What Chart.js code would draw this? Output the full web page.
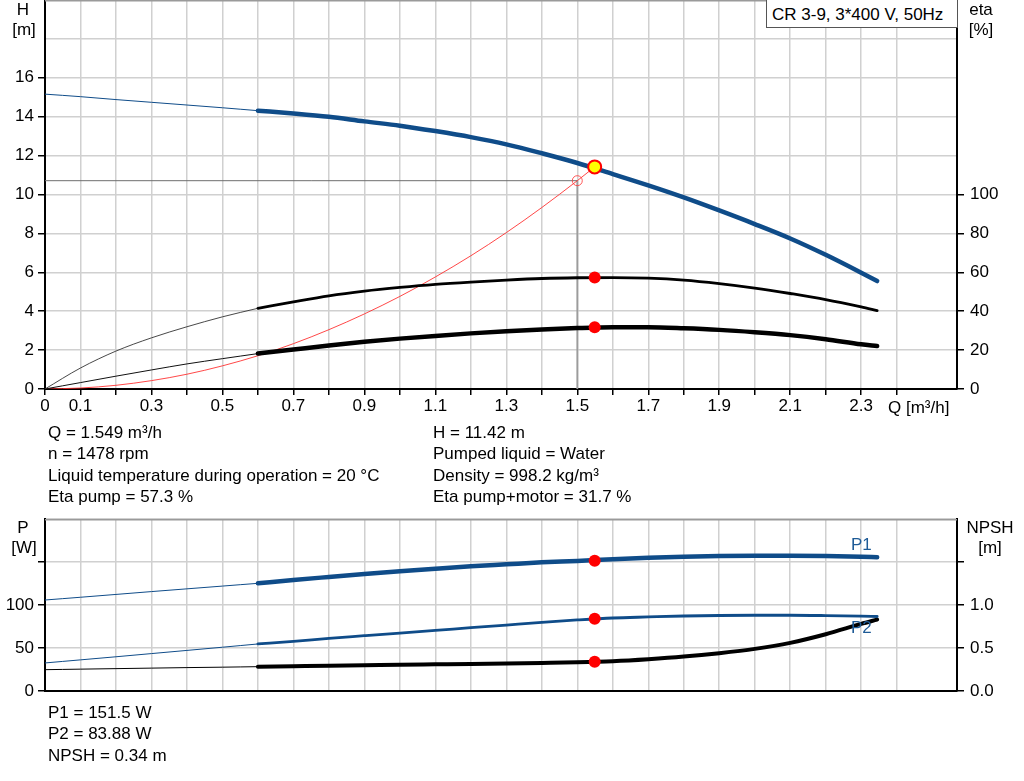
<!DOCTYPE html>
<html>
<head>
<meta charset="utf-8">
<script src="https://cdn.jsdelivr.net/npm/chart.js@4/dist/chart.umd.min.js"></script>
<style>
  body { margin: 0; background: #fff; }
  #wrap { position: relative; width: 1024px; height: 781px; overflow: hidden; font-family: 'Liberation Sans', Arial, sans-serif; font-size: 17px; color: #000; }
  .box { position: absolute; left: 0; width: 1024px; }
  .lbl { position: absolute; white-space: nowrap; line-height: 1; }
  .mid { transform: translate(-50%, -50%); }
  .info { position: absolute; line-height: 21.3px; white-space: nowrap; }
</style>
</head>
<body>
<div id="wrap">
  <div class="box" style="top:-19px;height:439px"><canvas id="curve-chart"></canvas></div>
  <div class="box" style="top:500px;height:281px"><canvas id="power-chart"></canvas></div>

  <div class="lbl mid" style="left:23px;top:9px">H</div>
  <div class="lbl mid" style="left:24px;top:29px">[m]</div>
  <div class="lbl mid" style="left:981px;top:9px">eta</div>
  <div class="lbl mid" style="left:981px;top:29px">[%]</div>
  <div class="lbl" style="left:888px;top:399px">Q [m³/h]</div>
  <div class="lbl" style="left:766px;top:-1px;width:192px;height:29px;border:1px solid #555;background:#fff;line-height:29px;padding-left:5px;box-sizing:border-box">CR 3-9, 3*400 V, 50Hz</div>

  <div class="info" style="left:48px;top:422px">Q = 1.549 m³/h<br>n = 1478 rpm<br>Liquid temperature during operation = 20 °C<br>Eta pump = 57.3 %</div>
  <div class="info" style="left:433px;top:422px">H = 11.42 m<br>Pumped liquid = Water<br>Density = 998.2 kg/m³<br>Eta pump+motor = 31.7 %</div>

  <div class="lbl mid" style="left:23px;top:527px">P</div>
  <div class="lbl mid" style="left:24px;top:547px">[W]</div>
  <div class="lbl mid" style="left:990px;top:527px">NPSH</div>
  <div class="lbl mid" style="left:990px;top:547px">[m]</div>
  <div class="lbl" style="left:851px;top:536px;color:#1d5a96">P1</div>
  <div class="lbl" style="left:851px;top:619px;color:#1d5a96">P2</div>

  <div class="info" style="left:48px;top:702px">P1 = 151.5 W<br>P2 = 83.88 W<br>NPSH = 0.34 m</div>
</div>

<script>
// flow values [m3/h]: thin part up to 0.6, thick part from 0.6 on
const qLow = [0, 0.1, 0.2, 0.3, 0.4, 0.5, 0.6];
const qHigh = [0.6, 0.7, 0.8, 0.9, 1.0, 1.1, 1.2, 1.3, 1.4, 1.5, 1.6, 1.7, 1.8, 1.9, 2.0, 2.1, 2.2, 2.3, 2.345];

// head H [m]
const headLow = [15.16, 15.03, 14.88, 14.74, 14.6, 14.46, 14.31];
const headHigh = [14.31, 14.17, 14.0, 13.76, 13.54, 13.26, 12.95, 12.58, 12.12, 11.62, 11.05, 10.47, 9.85, 9.18, 8.48, 7.74, 6.9, 5.98, 5.55];

// eta pump [%]
const etaPumpLow = [0, 10.8, 19.5, 26.3, 32.0, 37.1, 41.5];
const etaPumpHigh = [41.5, 44.8, 47.9, 50.3, 52.2, 53.8, 55.0, 56.0, 56.8, 57.2, 57.3, 57.0, 56.0, 54.2, 51.9, 49.1, 46.0, 42.2, 40.3];

// eta pump+motor [%]
const etaTotalLow = [0, 3.3, 6.6, 9.8, 12.9, 15.6, 18.2];
const etaTotalHigh = [18.2, 20.3, 22.4, 24.3, 25.9, 27.3, 28.6, 29.7, 30.6, 31.3, 31.7, 31.7, 31.2, 30.4, 29.2, 27.7, 25.6, 23.0, 22.1];

// system curve
const sysQ = [0, 0.1, 0.2, 0.3, 0.4, 0.5, 0.6, 0.7, 0.8, 0.9, 1.0, 1.1, 1.2, 1.3, 1.4, 1.5, 1.549];
const sysH = [0, 0.05, 0.19, 0.43, 0.76, 1.19, 1.71, 2.33, 3.05, 3.86, 4.76, 5.76, 6.85, 8.04, 9.33, 10.71, 11.42];

// power P1 / P2 [W]
const p1Low = [105.8, 109.0, 112.3, 115.6, 118.8, 122.0, 125.2];
const p1High = [125.2, 129.1, 132.6, 136.0, 139.2, 142.2, 145.0, 147.3, 149.6, 151.3, 153.3, 155.0, 156.2, 156.9, 157.3, 157.4, 157.1, 156.2, 155.6];
const p2Low = [32.6, 36.2, 39.8, 43.5, 47.2, 50.9, 54.7];
const p2High = [54.7, 57.7, 61.2, 64.3, 67.4, 70.5, 73.6, 76.7, 79.8, 82.6, 84.9, 86.1, 87.2, 87.8, 88.1, 88.1, 87.7, 87.0, 86.6];

// NPSH [m]
const npshLow = [0.248, 0.254, 0.26, 0.266, 0.272, 0.277, 0.283];
const npshHigh = [0.283, 0.289, 0.295, 0.3, 0.306, 0.31, 0.314, 0.319, 0.326, 0.334, 0.347, 0.37, 0.40, 0.44, 0.49, 0.56, 0.66, 0.78, 0.83];

// duty point and requested point
const dutyQ = 1.549, dutyH = 11.42, dutyEtaPump = 57.3, dutyEtaTotal = 31.7;
const dutyP1 = 151.5, dutyP2 = 83.88, dutyNpsh = 0.34;
const reqQ = 1.5, reqH = 10.71;

const qMax = 2.57;
const blue = '#0f4c89';
const gridColor = '#d0d0d0';
const fontFamily = "'Liberation Sans', Arial, sans-serif";

Chart.defaults.font.family = fontFamily;
Chart.defaults.font.size = 17;
Chart.defaults.color = '#000';

const pts = (xs, ys) => xs.map((x, i) => ({ x: x, y: ys[i] }));

function curve(data, color, width, axis) {
    return {
        data: data,
        yAxisID: axis,
        borderColor: color,
        borderWidth: width,
        borderCapStyle: 'round',
        pointRadius: 0,
        cubicInterpolationMode: 'monotone',
        fill: false
    };
}

function marker(data, axis, opts) {
    return Object.assign({
        data: data,
        yAxisID: axis,
        showLine: false,
        pointRadius: 6,
        pointBackgroundColor: '#ff0000',
        pointBorderWidth: 0
    }, opts || {});
}

// gray line on top of plot area
const topFrame = {
    id: 'topFrame',
    afterDraw(chart) {
        const a = chart.chartArea, ctx = chart.ctx;
        ctx.save();
        ctx.strokeStyle = '#9a9a9a';
        ctx.lineWidth = 1.5;
        ctx.beginPath();
        ctx.moveTo(a.left, a.top + 0.75);
        ctx.lineTo(a.right, a.top + 0.75);
        ctx.stroke();
        ctx.restore();
    }
};

function xTickLabel(v) {
    const k = Math.round(v * 10);
    if (Math.abs(v * 10 - k) > 0.01) return '';
    if (k === 0) return '0';
    if (k % 2 === 1 && k <= 23) return (k / 10).toFixed(1);
    return '';
}

function xScale(showLabels, height) {
    return {
        type: 'linear',
        min: 0,
        max: qMax,
        ticks: {
            stepSize: 0.1,
            autoSkip: false,
            maxRotation: 0,
            display: showLabels,
            padding: 1,
            callback: xTickLabel
        },
        grid: {
            color: gridColor,
            lineWidth: 1.5,
            drawTicks: showLabels,
            tickLength: 6,
            tickWidth: 1.5,
            tickColor: ctx => (ctx.tick && ctx.tick.value < 2.55) ? '#000' : 'rgba(0,0,0,0)'
        },
        border: { color: '#000', width: 2 },
        afterFit: s => { s.height = height; s.paddingLeft = 0; s.paddingRight = 0; }
    };
}

function yScale(pos, max, step, labelMax, tickMax, fmt, width, grid) {
    return {
        type: 'linear',
        position: pos,
        min: 0,
        max: max,
        ticks: {
            stepSize: step,
            autoSkip: false,
            padding: pos === 'left' ? 4 : 6,
            callback: v => v <= labelMax + 1e-9 ? fmt(v) : ''
        },
        grid: {
            display: true,
            drawOnChartArea: grid,
            color: gridColor,
            lineWidth: 1.5,
            tickLength: 7,
            tickWidth: 1.5,
            tickColor: ctx => (ctx.tick && ctx.tick.value <= tickMax + 1e-9) ? '#000' : 'rgba(0,0,0,0)'
        },
        border: { color: '#000', width: 2 },
        afterFit: s => { s.width = width; s.paddingTop = 0; s.paddingBottom = 0; }
    };
}

const baseOptions = {
    animation: false,
    responsive: true,
    maintainAspectRatio: false,
    events: [],
    plugins: { legend: { display: false }, tooltip: { enabled: false } }
};

// H / eta chart
new Chart(document.getElementById('curve-chart'), {
    type: 'line',
    data: {
        datasets: [
            marker([{ x: dutyQ, y: dutyH }], 'y', {
                pointRadius: 6.5, pointBackgroundColor: '#ffff00', pointBorderColor: '#ff0000', pointBorderWidth: 2
            }),
            marker([{ x: dutyQ, y: dutyEtaPump }, { x: dutyQ, y: dutyEtaTotal }], 'eta'),
            marker([{ x: reqQ, y: reqH }], 'y', {
                pointRadius: 5, pointBackgroundColor: 'rgba(0,0,0,0)', pointBorderColor: 'rgba(255,60,60,0.85)', pointBorderWidth: 1
            }),
            curve(pts(qHigh, headHigh), blue, 4.5, 'y'),
            curve(pts(qLow, headLow), blue, 1, 'y'),
            curve(pts(qHigh, etaPumpHigh), '#000', 2.8, 'eta'),
            curve(pts(qLow, etaPumpLow), '#333', 0.9, 'eta'),
            curve(pts(qHigh, etaTotalHigh), '#000', 4.5, 'eta'),
            curve(pts(qLow, etaTotalLow), '#111', 1, 'eta'),
            curve(pts(sysQ, sysH), 'rgba(255,40,40,0.85)', 1, 'y'),
            { data: [{ x: 0, y: reqH }, { x: reqQ, y: reqH }], yAxisID: 'y', borderColor: '#6e6e6e', borderWidth: 1, pointRadius: 0 },
            { data: [{ x: reqQ, y: reqH }, { x: reqQ, y: 0 }], yAxisID: 'y', borderColor: '#9c9c9c', borderWidth: 1.8, pointRadius: 0 }
        ]
    },
    options: Object.assign({}, baseOptions, {
        layout: { padding: { top: 19, left: 0, right: 0, bottom: 0 } },
        scales: {
            x: xScale(true, 31),
            y: yScale('left', 20, 2, 16, 16, v => String(v), 45, true),
            eta: yScale('right', 200, 20, 100, 100, v => String(v), 67, false)
        }
    }),
    plugins: [topFrame]
});

// P / NPSH chart
new Chart(document.getElementById('power-chart'), {
    type: 'line',
    data: {
        datasets: [
            marker([{ x: dutyQ, y: dutyP1 }, { x: dutyQ, y: dutyP2 }], 'y'),
            marker([{ x: dutyQ, y: dutyNpsh }], 'npsh'),
            curve(pts(qHigh, p1High), blue, 4.5, 'y'),
            curve(pts(qLow, p1Low), blue, 1, 'y'),
            curve(pts(qHigh, p2High), blue, 2.8, 'y'),
            curve(pts(qLow, p2Low), blue, 1, 'y'),
            curve(pts(qHigh, npshHigh), '#000', 4, 'npsh'),
            curve(pts(qLow, npshLow), '#000', 1, 'npsh')
        ]
    },
    options: Object.assign({}, baseOptions, {
        layout: { padding: { top: 19, left: 0, right: 0, bottom: 0 } },
        scales: {
            x: xScale(false, 90),
            y: yScale('left', 200, 50, 100, 150, v => String(v), 45, true),
            npsh: yScale('right', 2, 0.5, 1, 1.5, v => v.toFixed(1), 67, false)
        }
    }),
    plugins: [topFrame]
});
</script>
</body>
</html>
